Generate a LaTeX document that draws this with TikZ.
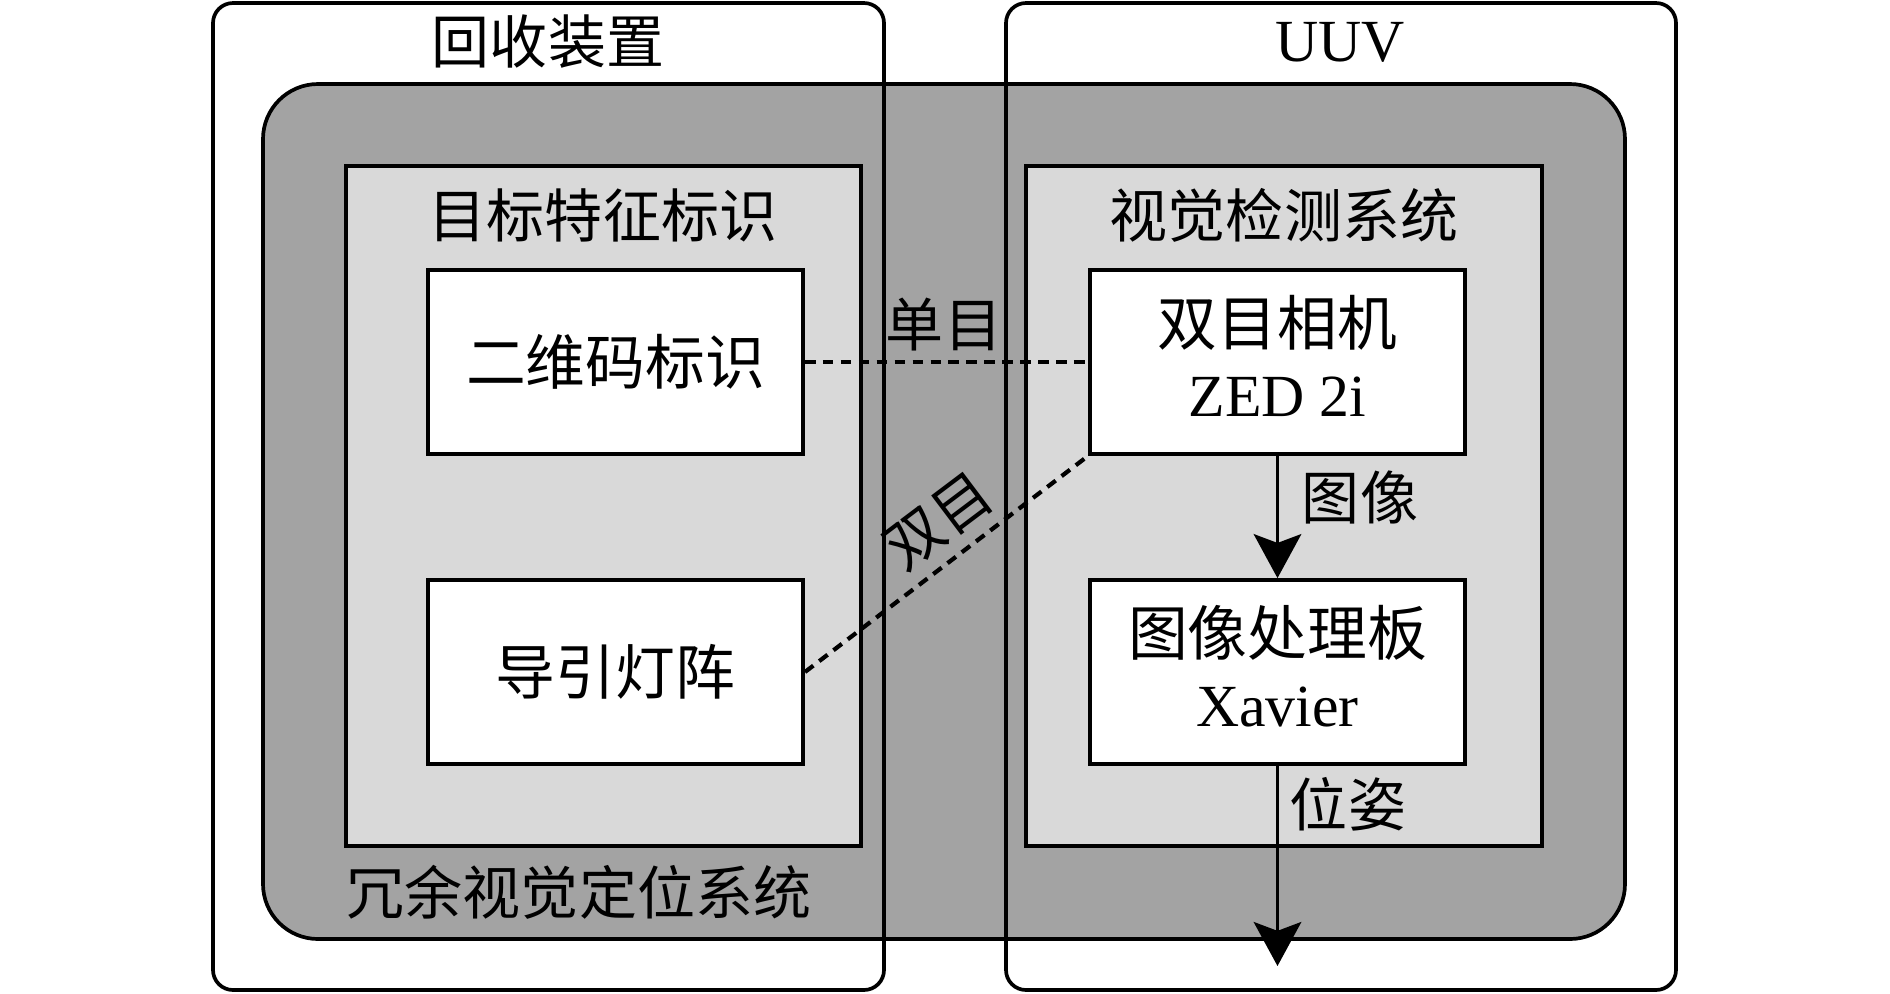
\documentclass[tikz,border=0pt]{standalone}
\usepackage{fontspec}
\setmainfont{Liberation Serif}
\newfontfamily\cjk{Noto Sans CJK SC}
\usetikzlibrary{arrows.meta}
\definecolor{graybg}{HTML}{A3A3A3}
\definecolor{lightbg}{HTML}{D9D9D9}
\begin{document}
\begin{tikzpicture}[x=0.01cm,y=-0.01cm,line width=1.05pt,
  txt/.style={font=\fontsize{16.5}{20.5}\selectfont\cjk,inner sep=0pt},
  lat/.style={font=\fontsize{17}{20.5}\selectfont,inner sep=0pt},
  whitebox/.style={draw,fill=white,minimum width=3.75cm,minimum height=1.84cm,
    inner sep=0pt,align=center,font=\fontsize{17}{20}\selectfont},
  twoline/.style={text depth=3.5pt},
  panel/.style={draw,fill=lightbg},
  dashline/.style={line width=1.2pt,dash pattern=on 3pt off 2.1pt},
  flow/.style={-{Stealth[length=12.5pt,width=13.5pt,inset=2.5pt]}}]
\useasboundingbox (0,0) rectangle (1890,993);
\fill[white] (0,0) rectangle (1890,993);
% redundant system (gray)
\draw[fill=graybg,rounded corners=0.55cm] (263,84) rectangle (1625,939);
% outer boxes
\draw[rounded corners=0.2cm] (213,3) rectangle (884,990);
\draw[rounded corners=0.2cm] (1006,3) rectangle (1676,990);
% panels
\draw[panel] (346,166) rectangle (861,846);
\draw[panel] (1026,166) rectangle (1542,846);
% boxes
\node[whitebox] (qr) at (615.5,362) {\cjk 二维码标识};
\node[whitebox] (led) at (615.5,672) {\cjk 导引灯阵};
\node[whitebox,twoline] (cam) at (1277.5,362) {{\cjk 双目相机}\\ZED 2i};
\node[whitebox,twoline] (proc) at (1277.5,672) {{\cjk 图像处理板}\\Xavier};
\coordinate (out) at (1277.5,966);
% connectors
\draw[dashline] (qr.east) -- (cam.west);
\draw[dashline] (led.east) -- (cam.south west);
\draw[flow] (cam.south) -- (proc.north);
\draw[flow] (proc.south) -- (out);
% labels
\node[txt] (lrec) at (548,42) {回收装置};
\node[lat] (luuv) at (1340,42) {UUV};
\node[txt] (ltarget) at (603,215) {目标特征标识};
\node[txt] (lvision) at (1284,215) {视觉检测系统};
\node[txt] (lred) at (579,892) {冗余视觉定位系统};
\node[txt] (lmono) at (944,325) {单目};
\node[txt,rotate=37] (lbino) at (939,521) {双目};
\node[txt] (limg) at (1360,497) {图像};
\node[txt] (lpose) at (1348,804) {位姿};
\end{tikzpicture}
\end{document}
